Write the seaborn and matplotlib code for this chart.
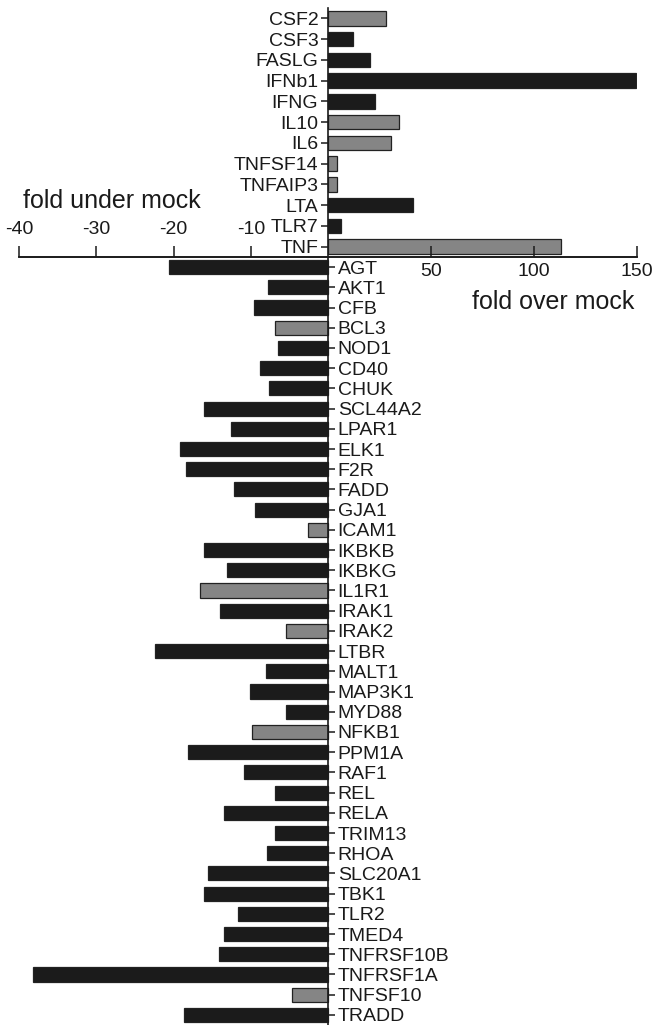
import numpy as np
import pandas as pd
import matplotlib
matplotlib.use("Agg")
import matplotlib.pyplot as plt
import seaborn as sns

# ---- data ----
up_genes = ["CSF2", "CSF3", "FASLG", "IFNb1", "IFNG", "IL10", "IL6",
            "TNFSF14", "TNFAIP3", "LTA", "TLR7", "TNF"]
up_values = [28.3, 11.9, 20.2, 149.6, 22.8, 34.7, 30.5, 4.4, 4.2, 41.2, 6.1, 113.3]
up_shade = ["gray", "black", "black", "black", "black", "gray", "gray",
            "gray", "gray", "black", "black", "gray"]

down_genes = ["AGT", "AKT1", "CFB", "BCL3", "NOD1", "CD40", "CHUK", "SCL44A2",
              "LPAR1", "ELK1", "F2R", "FADD", "GJA1", "ICAM1", "IKBKB", "IKBKG",
              "IL1R1", "IRAK1", "IRAK2", "LTBR", "MALT1", "MAP3K1", "MYD88",
              "NFKB1", "PPM1A", "RAF1", "REL", "RELA", "TRIM13", "RHOA",
              "SLC20A1", "TBK1", "TLR2", "TMED4", "TNFRSF10B", "TNFRSF1A",
              "TNFSF10", "TRADD"]
down_values = [-20.6, -7.8, -9.6, -6.9, -6.5, -8.8, -7.7, -16.1,
               -12.5, -19.2, -18.4, -12.2, -9.5, -2.6, -16.1, -13.1,
               -16.6, -14.0, -5.5, -22.4, -8.0, -10.1, -5.5,
               -9.9, -18.1, -10.9, -6.9, -13.5, -6.8, -7.9,
               -15.5, -16.1, -11.6, -13.5, -14.1, -38.2,
               -4.6, -18.6]
down_shade = ["black", "black", "black", "gray", "black", "black", "black", "black",
              "black", "black", "black", "black", "black", "gray", "black", "black",
              "gray", "black", "gray", "black", "black", "black", "black",
              "gray", "black", "black", "black", "black", "black", "black",
              "black", "black", "black", "black", "black", "black",
              "gray", "black"]

neg_ticks = [-40, -30, -20, -10]
pos_ticks = [50, 100, 150]

up_df = pd.DataFrame({"gene": up_genes, "fold": up_values, "shade": up_shade})
dn_df = pd.DataFrame({"gene": down_genes, "fold": down_values, "shade": down_shade})

sns.set_theme(style="white")
plt.rcParams["font.family"] = ["Liberation Sans", "DejaVu Sans"]
TXT = "#1a1a1a"
plt.rcParams["text.color"] = TXT
plt.rcParams["xtick.color"] = TXT
plt.rcParams["ytick.color"] = TXT

palette = {"black": "#1b1b1b", "gray": "#858585"}


def fwd(x):
    x = np.asarray(x, dtype=float)
    return np.where(x < 0, x / 40.0, x / 150.0)


def inv(y):
    y = np.asarray(y, dtype=float)
    return np.where(y < 0, y * 40.0, y * 150.0)


W, H = 652, 1025
fig = plt.figure(figsize=(W / 100, H / 100), dpi=100)
left = 19 / W
width = 618 / W
axis_y = 257
top_y = 8
ax_up = fig.add_axes([left, 1 - axis_y / H, width, (axis_y - top_y) / H])
ax_dn = fig.add_axes([left, 0, width, (H - axis_y) / H])

for ax, df in ((ax_up, up_df), (ax_dn, dn_df)):
    ax.set_xscale("function", functions=(fwd, inv))
    sns.barplot(data=df, x="fold", y="gene", hue="shade", palette=palette,
                dodge=False, legend=False, width=0.7, orient="h",
                edgecolor="#222222", linewidth=0.9, ax=ax)
    ax.set_xlim(-40, 150)
    ax.set_xlabel("")
    ax.set_ylabel("")
    ax.set_facecolor("none")
    for s in ax.spines.values():
        s.set_color(TXT)
        s.set_linewidth(1.2)

# upper axes: y labels on the left of zero line, negative x ticks above axis line
ax_up.spines["right"].set_visible(False)
ax_up.spines["bottom"].set_visible(False)
ax_up.spines["left"].set_position(("data", 0))
ax_up.spines["top"].set_position(("axes", 0))
ax_up.yaxis.tick_left()
ax_up.tick_params(axis="y", direction="out", length=5, width=1.1, pad=2,
                  labelsize=14)
ax_up.set_xticks(neg_ticks)
ax_up.set_xticklabels([str(t) for t in neg_ticks])
ax_up.tick_params(axis="x", bottom=False, labelbottom=False, top=True,
                  labeltop=True, direction="out", length=8, width=1.1, pad=6,
                  labelsize=14)
ax_up.xaxis.set_minor_locator(matplotlib.ticker.NullLocator())

# lower axes: y labels on the right of zero line, positive ticks below axis line
ax_dn.spines["left"].set_visible(False)
ax_dn.spines["top"].set_visible(False)
ax_dn.spines["right"].set_position(("data", 0))
ax_dn.spines["bottom"].set_position(("axes", 1))
ax_dn.yaxis.tick_right()
ax_dn.tick_params(axis="y", direction="out", length=5, width=1.1, pad=2,
                  labelsize=14)
ax_dn.set_xticks(pos_ticks)
ax_dn.set_xticklabels([str(t) for t in pos_ticks])
ax_dn.tick_params(axis="x", bottom=True, labelbottom=True, top=False,
                  direction="in", length=8, width=1.1, pad=4, labelsize=14)
ax_dn.xaxis.set_minor_locator(matplotlib.ticker.NullLocator())

ax_up.text(-39.5, 8.8, "fold under mock", fontsize=18, ha="left",
           va="center", color=TXT)
ax_dn.text(148.5, 1.75, "fold over mock", fontsize=18, ha="right",
           va="center", color=TXT)

fig.savefig("out.png", dpi=100)
